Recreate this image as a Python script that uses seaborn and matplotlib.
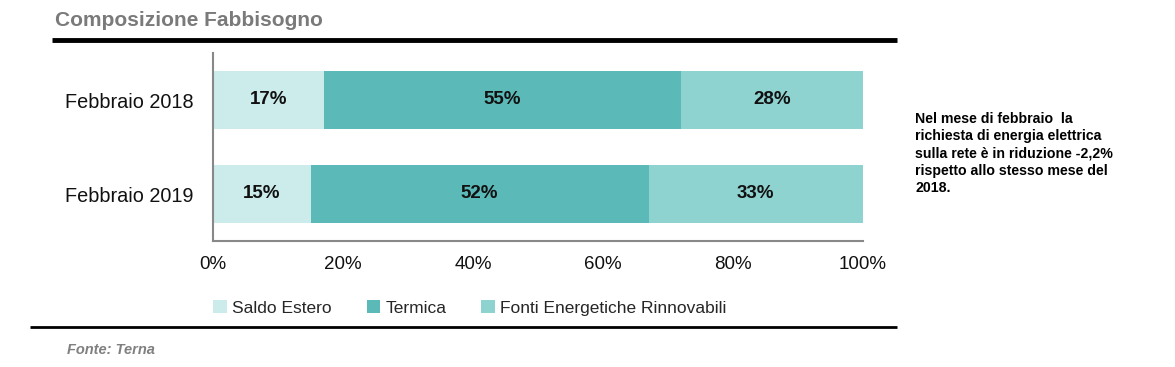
import matplotlib
matplotlib.use("Agg")
import matplotlib.pyplot as plt
import seaborn as sns
import pandas as pd
import numpy as np
from matplotlib.lines import Line2D
from matplotlib.patches import Patch

categories = ["Febbraio 2018", "Febbraio 2019"]
series = ["Saldo Estero", "Termica", "Fonti Energetiche Rinnovabili"]
saldo_estero = [17, 15]
termica = [55, 52]
rinnovabili = [28, 33]
xtick_labels = ["0%", "20%", "40%", "60%", "80%", "100%"]
colors = ["#CCEBEB", "#5BB9B7", "#8FD3D1"]

sns.set_theme(style="white")
plt.rcParams["font.family"] = ["Liberation Sans", "DejaVu Sans"]

df = pd.DataFrame({"cat": categories, series[0]: saldo_estero,
                   series[1]: termica, series[2]: rinnovabili})

fig = plt.figure(figsize=(11.75, 3.67), dpi=100)
ax = fig.add_axes([213/1175, 1-241/367, 650/1175, 188/367])

left = np.zeros(len(categories))
for s, c in zip(series, colors):
    sns.barplot(data=df, y="cat", x=s, left=left, color=c, width=0.62,
                orient="h", ax=ax, saturation=1, label=s, linewidth=0,
                edgecolor="none")
    vals = df[s].values
    for i, v in enumerate(vals):
        ax.text(left[i] + v/2, i, f"{v}%", ha="center", va="center",
                fontsize=13.5, fontweight="bold", color="#111111")
    left = left + vals

ax.set_xlim(0, 100)
ax.set_ylim(1.5, -0.5)
ax.set_xticks([0, 20, 40, 60, 80, 100])
ax.set_xticklabels(xtick_labels, fontsize=13.5)
ax.set_yticks([0, 1])
ax.set_yticklabels(categories, fontsize=14.3)
ax.set_xlabel("")
ax.set_ylabel("")
for sp in ["top", "right"]:
    ax.spines[sp].set_visible(False)
for sp in ["left", "bottom"]:
    ax.spines[sp].set_color("#888888")
    ax.spines[sp].set_linewidth(1.5)
ax.tick_params(axis="x", length=5, color="#888888", width=1.5, pad=6, colors="#111111")
ax.tick_params(axis="y", length=0, pad=14, colors="#111111")
ax.set_yticks([0.5, 1.5], minor=True)
ax.tick_params(axis="y", which="minor", length=5, color="#888888", width=1.5)
if ax.get_legend():
    ax.get_legend().remove()

handles = [Patch(facecolor=c, edgecolor="none") for c in colors]
fig.legend(handles, series, loc="center", bbox_to_anchor=(470/1175, 1-308/367),
           ncol=3, frameon=False, fontsize=12.5, handlelength=0.8, handleheight=0.8,
           handletextpad=0.3, columnspacing=2.0)

fig.text(55/1175, 1-20/367, "Composizione Fabbisogno", fontsize=15,
         fontweight="bold", color="#7a7a7a", ha="left", va="center")
fig.add_artist(Line2D([52/1175, 897/1175], [1-40/367, 1-40/367], color="black",
                      lw=3.5, solid_capstyle="butt"))
fig.add_artist(Line2D([30/1175, 897/1175], [1-327/367, 1-327/367], color="black",
                      lw=2, solid_capstyle="butt"))
fig.text(67/1175, 1-350/367, "Fonte: Terna", fontsize=10.5, fontstyle="italic",
         fontweight="bold", color="#808080", ha="left", va="center")

fig.text(915/1175, 1-112/367,
         "Nel mese di febbraio  la\nrichiesta di energia elettrica\nsulla rete è in riduzione -2,2%\nrispetto allo stesso mese del\n2018.",
         fontsize=10.2, fontweight="bold", color="black", ha="left", va="top",
         linespacing=1.3)

fig.savefig("out.png", dpi=100, facecolor="white")
